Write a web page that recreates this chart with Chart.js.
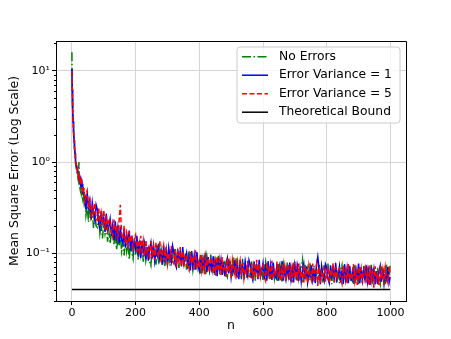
<!DOCTYPE html>
<html><head><meta charset="utf-8">
<script src="https://cdn.jsdelivr.net/npm/chart.js@4/dist/chart.umd.min.js"></script>
<style>html,body{margin:0;padding:0;background:#fff;} canvas{display:block;}</style>
</head><body>
<canvas id="c" width="451" height="339"></canvas>
<script>
const nValues = [0,1,2,3,4,5,6,7,8,9,10,11,12,
14,16,18,20,22,24,26,28,30,32,34,36,38,
40,44,48,52,56,60,64,68,72,76,
80,84,88,92,96,100,104,108,112,116,
120,124,128,132,136,140,144,148,152,156,
160,164,168,172,176,180,184,188,192,196,
200,204,208,212,216,220,224,228,232,236,
240,244,248,252,256,260,264,268,272,276,
280,284,288,292,296,300,304,308,312,316,
320,324,328,332,336,340,344,348,352,356,
360,364,368,372,376,380,384,388,392,396,
400,404,408,412,416,420,424,428,432,436,
440,444,448,452,456,460,464,468,472,476,
480,484,488,492,496,500,504,508,512,516,
520,524,528,532,536,540,544,548,552,556,
560,564,568,572,576,580,584,588,592,596,
600,604,608,612,616,620,624,628,632,636,
640,644,648,652,656,660,664,668,672,676,
680,684,688,692,696,700,704,708,712,716,
720,724,728,732,736,740,744,748,752,756,
760,764,768,772,776,780,784,788,792,796,
800,804,808,812,816,820,824,828,832,836,
840,844,848,852,856,860,864,868,872,876,
880,884,888,892,896,900,904,908,912,916,
920,924,928,932,936,940,944,948,952,956,
960,964,968,972,976,980,984,988,992,996,
999];

const noErrors = [16.0,7.0,4.6,3.3,2.6,2.15,1.85,1.6,1.4,1.25,1.12,1.0,0.92,
0.85,0.76,0.7,0.64,1.0,0.55,0.5,0.58,0.45,0.48,0.4,0.44,0.37,
0.42,0.26,0.33,0.22,0.35,0.23,0.28,0.19,0.285,0.2,
0.192,0.262,0.165,0.208,0.146,0.216,0.164,0.2,0.134,0.18,
0.128,0.168,0.192,0.126,0.17,0.11,0.139,0.12,0.159,0.105,
0.131,0.095,0.15,0.105,0.131,0.086,0.132,0.102,0.087,0.13,
0.095,0.132,0.085,0.119,0.096,0.134,0.081,0.117,0.083,0.104,
0.109,0.081,0.073,0.117,0.089,0.105,0.075,0.122,0.082,0.092,
0.111,0.075,0.1,0.071,0.116,0.08,0.105,0.073,0.113,0.082,
0.081,0.115,0.076,0.097,0.069,0.108,0.084,0.104,0.072,0.099,
0.066,0.09,0.105,0.071,0.098,0.066,0.085,0.075,0.101,0.069,
0.081,0.06,0.096,0.069,0.088,0.059,0.092,0.073,0.064,0.097,
0.062,0.088,0.058,0.082,0.067,0.095,0.058,0.086,0.063,0.079,
0.081,0.06,0.055,0.087,0.067,0.078,0.056,0.091,0.061,0.069,
0.082,0.055,0.074,0.052,0.086,0.059,0.077,0.054,0.083,0.06,
0.059,0.083,0.055,0.07,0.05,0.078,0.06,0.075,0.052,0.072,
0.051,0.069,0.081,0.054,0.076,0.051,0.065,0.058,0.078,0.053,
0.066,0.049,0.079,0.057,0.072,0.049,0.076,0.06,0.052,0.079,
0.053,0.074,0.049,0.069,0.057,0.081,0.05,0.073,0.053,0.067,
0.071,0.086,0.048,0.076,0.058,0.068,0.049,0.079,0.053,0.06,
0.073,0.049,0.066,0.047,0.077,0.053,0.069,0.048,0.074,0.054,
0.054,0.077,0.05,0.065,0.046,0.072,0.056,0.07,0.048,0.066,
0.047,0.064,0.074,0.05,0.07,0.047,0.06,0.053,0.072,0.049,
0.062,0.046,0.074,0.053,0.067,0.045,0.071,0.056,0.049,0.074,
0.049,0.07,0.046,0.065,0.053,0.075,0.046,0.068,0.05,0.063,
0.067,0.05,0.045,0.072,0.055,0.065,0.046,0.075,0.05,0.057,
0.074];

const errVar1 = [10.5,6.3,4.7,3.5,2.8,2.35,2.0,1.75,1.55,1.38,1.25,1.12,1.03,
0.92,0.84,0.8,0.72,0.68,0.62,0.66,0.56,0.53,0.58,0.48,0.5,0.45,
0.44,0.3,0.46,0.32,0.38,0.24,0.36,0.28,0.23,0.34,
0.302,0.215,0.187,0.291,0.219,0.246,0.172,0.273,0.178,0.196,
0.238,0.156,0.204,0.14,0.224,0.15,0.191,0.13,0.196,0.14,
0.129,0.179,0.115,0.16,0.129,0.178,0.107,0.155,0.11,0.136,
0.112,0.156,0.101,0.127,0.089,0.137,0.104,0.128,0.086,0.118,
0.083,0.112,0.131,0.088,0.123,0.082,0.106,0.094,0.127,0.086,
0.101,0.075,0.12,0.086,0.109,0.074,0.115,0.091,0.08,0.121,
0.104,0.077,0.07,0.112,0.086,0.101,0.072,0.117,0.078,0.088,
0.101,0.068,0.091,0.065,0.106,0.073,0.095,0.066,0.103,0.075,
0.065,0.092,0.061,0.086,0.071,0.1,0.062,0.091,0.066,0.083,
0.066,0.093,0.061,0.079,0.056,0.088,0.068,0.085,0.058,0.08,
0.056,0.076,0.088,0.06,0.083,0.055,0.071,0.063,0.085,0.058,
0.07,0.052,0.084,0.06,0.076,0.052,0.08,0.064,0.056,0.084,
0.075,0.056,0.051,0.081,0.062,0.073,0.052,0.085,0.057,0.064,
0.078,0.052,0.07,0.05,0.082,0.056,0.074,0.051,0.079,0.058,
0.054,0.076,0.05,0.071,0.058,0.082,0.05,0.074,0.054,0.068,
0.056,0.079,0.052,0.067,0.048,0.074,0.058,0.072,0.05,0.068,
0.049,0.066,0.077,0.052,0.072,0.048,0.062,0.055,0.074,0.051,
0.063,0.047,0.075,0.092,0.068,0.046,0.072,0.057,0.05,0.076,
0.07,0.052,0.047,0.074,0.057,0.067,0.048,0.078,0.052,0.059,
0.072,0.048,0.065,0.046,0.076,0.052,0.068,0.047,0.073,0.053,
0.05,0.071,0.047,0.066,0.054,0.077,0.047,0.07,0.051,0.064,
0.052,0.074,0.049,0.063,0.045,0.07,0.054,0.067,0.046,0.064,
0.046,0.063,0.073,0.049,0.068,0.046,0.059,0.052,0.071,0.048,
0.055];

const errVar5 = [10.0,6.6,4.5,3.6,2.75,2.4,1.95,1.8,1.5,1.42,1.2,1.15,0.98,
0.95,0.82,0.86,0.7,0.75,0.6,0.68,0.57,0.62,0.5,0.55,0.46,0.52,
0.353,0.443,0.49,0.313,0.409,0.261,0.321,0.274,0.359,0.236,
0.232,0.316,0.199,0.277,0.223,0.3,0.181,0.261,0.185,0.227,
0.238,0.172,0.151,0.234,0.175,0.2,0.139,0.221,0.34,0.16,
0.144,0.2,0.129,0.162,0.113,0.173,0.131,0.16,0.107,0.145,
0.159,0.105,0.139,0.097,0.156,0.106,0.136,0.093,0.14,0.101,
0.114,0.085,0.136,0.098,0.124,0.084,0.131,0.104,0.09,0.137,
0.078,0.106,0.123,0.083,0.116,0.077,0.1,0.088,0.12,0.081,
0.077,0.108,0.071,0.101,0.083,0.117,0.072,0.106,0.077,0.097,
0.096,0.071,0.065,0.103,0.079,0.093,0.066,0.108,0.072,0.081,
0.069,0.099,0.065,0.083,0.059,0.092,0.072,0.089,0.062,0.085,
0.089,0.06,0.08,0.057,0.093,0.064,0.084,0.058,0.091,0.066,
0.074,0.055,0.088,0.063,0.08,0.054,0.084,0.067,0.058,0.088,
0.054,0.072,0.084,0.057,0.079,0.053,0.068,0.06,0.082,0.056,
0.055,0.078,0.051,0.073,0.06,0.085,0.052,0.077,0.056,0.07,
0.074,0.055,0.05,0.079,0.061,0.072,0.051,0.083,0.056,0.063,
0.057,0.081,0.053,0.068,0.049,0.076,0.059,0.073,0.05,0.069,
0.076,0.051,0.068,0.048,0.079,0.055,0.071,0.05,0.077,0.056,
0.064,0.048,0.076,0.055,0.07,0.047,0.073,0.058,0.051,0.077,
0.048,0.065,0.076,0.044,0.071,0.047,0.061,0.054,0.073,0.05,
0.051,0.072,0.047,0.067,0.055,0.078,0.048,0.071,0.052,0.065,
0.068,0.051,0.046,0.073,0.056,0.066,0.047,0.077,0.051,0.058,
0.053,0.076,0.05,0.064,0.045,0.071,0.055,0.068,0.047,0.065,
0.071,0.048,0.064,0.045,0.074,0.051,0.067,0.042,0.072,0.052,
0.061,0.045,0.073,0.052,0.066,0.045,0.07,0.055,0.048,0.073,
0.058];

const boundN = [0, 999];
const boundMSE = [0.04, 0.04];

const seriesLabels = ['No Errors', 'Error Variance = 1', 'Error Variance = 5', 'Theoretical Bound'];
const xTicks = [0, 200, 400, 600, 800, 1000];
const yTicks = [0.1, 1, 10];
const yTickLabels = ['10\u207B\u00B9', '10\u2070', '10\u00B9'];
const yMinorTicks = [0.03,0.04,0.05,0.06,0.07,0.08,0.09,0.2,0.3,0.4,0.5,0.6,0.7,0.8,0.9,2,3,4,5,6,7,8,9,20];

const FONT = "'DejaVu Sans', sans-serif";
Chart.defaults.font.family = FONT;
Chart.defaults.color = '#000';

const mk = (xs, ys) => xs.map((x, i) => ({x: x, y: ys[i]}));

const framePlugin = {
  id: 'frame',
  afterDatasetsDraw(chart) {
    const {ctx, chartArea: a, scales} = chart;
    ctx.save();
    ctx.strokeStyle = '#000';
    ctx.lineWidth = 1;
    ctx.beginPath();
    ctx.moveTo(Math.round(a.left) + 0.5, Math.round(a.top) + 0.5);
    ctx.lineTo(Math.round(a.right) + 0.5, Math.round(a.top) + 0.5);
    ctx.lineTo(Math.round(a.right) + 0.5, Math.round(a.bottom) + 0.5);
    ctx.stroke();
    ctx.beginPath();
    yMinorTicks.forEach(v => {
      const y = Math.round(scales.y.getPixelForValue(v)) + 0.5;
      ctx.moveTo(a.left - 2, y);
      ctx.lineTo(a.left, y);
    });
    ctx.stroke();
    ctx.restore();
  }
};

const legendPlugin = {
  id: 'boxlegend',
  afterDraw(chart) {
    const ctx = chart.ctx;
    const x0 = 237, y0 = 47, w = 163, h = 76, r = 3;
    ctx.save();
    ctx.beginPath();
    ctx.moveTo(x0 + r, y0);
    ctx.arcTo(x0 + w, y0, x0 + w, y0 + h, r);
    ctx.arcTo(x0 + w, y0 + h, x0, y0 + h, r);
    ctx.arcTo(x0, y0 + h, x0, y0, r);
    ctx.arcTo(x0, y0, x0 + w, y0, r);
    ctx.closePath();
    ctx.fillStyle = 'rgba(255,255,255,0.8)';
    ctx.fill();
    ctx.strokeStyle = '#cccccc';
    ctx.lineWidth = 1;
    ctx.stroke();
    const rows = [56.7, 75.2, 93.7, 112.2];
    chart.data.datasets.forEach((ds, i) => {
      const y = rows[i];
      ctx.beginPath();
      ctx.setLineDash(ds.borderDash || []);
      ctx.strokeStyle = ds.borderColor;
      ctx.lineWidth = ds.borderWidth;
      ctx.moveTo(242, y);
      ctx.lineTo(268, y);
      ctx.stroke();
      ctx.setLineDash([]);
      ctx.fillStyle = '#000';
      ctx.font = '12.3px ' + FONT;
      ctx.textBaseline = 'middle';
      ctx.textAlign = 'left';
      ctx.fillText(ds.label, 279, y);
    });
    ctx.restore();
  }
};

new Chart(document.getElementById('c'), {
  type: 'line',
  data: {
    datasets: [
      {label: seriesLabels[0], data: mk(nValues, noErrors), borderColor: '#008000', borderWidth: 1.5, borderDash: [9, 2.5, 1.5, 2.5], order: 3},
      {label: seriesLabels[1], data: mk(nValues, errVar1), borderColor: '#0000ff', borderWidth: 1.5, order: 2},
      {label: seriesLabels[2], data: mk(nValues, errVar5), borderColor: '#ff0000', borderWidth: 1.5, borderDash: [5, 2.5], order: 1},
      {label: seriesLabels[3], data: mk(boundN, boundMSE), borderColor: '#000000', borderWidth: 1.5, order: 0}
    ]
  },
  options: {
    responsive: false,
    animation: false,
    devicePixelRatio: 1,
    elements: {point: {radius: 0}, line: {tension: 0, fill: false}},
    layout: {padding: {top: 41, right: 45, left: 0, bottom: 0}},
    plugins: {legend: {display: false}, tooltip: {enabled: false}},
    scales: {
      x: {
        type: 'linear', min: -49.95, max: 1048.95,
        afterBuildTicks: s => { s.ticks = xTicks.map(v => ({value: v})); },
        afterFit: s => { s.height = 38; },
        grid: {color: '#d4d4d4', lineWidth: 1, tickColor: '#000', tickLength: 4},
        border: {color: '#000', width: 1},
        ticks: {font: {size: 11}, color: '#000', padding: 2, maxRotation: 0, autoSkip: false, callback: v => String(v)},
        title: {display: true, text: 'n', font: {size: 12.5}, color: '#000', padding: {top: 0, bottom: 6}}
      },
      y: {
        type: 'logarithmic', min: 0.03, max: 21.3,
        afterBuildTicks: s => { s.ticks = yTicks.map(v => ({value: v})); },
        afterFit: s => { s.width = 56; },
        grid: {color: '#d4d4d4', lineWidth: 1, tickColor: '#000', tickLength: 4},
        border: {color: '#000', width: 1},
        ticks: {font: {size: 11}, color: '#000', padding: 2, autoSkip: false,
          callback: v => { const i = yTicks.indexOf(v); return i >= 0 ? yTickLabels[i] : ''; }},
        title: {display: true, text: 'Mean Square Error (Log Scale)', font: {size: 12.5}, color: '#000', padding: {top: 7, bottom: 0}}
      }
    }
  },
  plugins: [framePlugin, legendPlugin]
});
</script>
</body></html>
